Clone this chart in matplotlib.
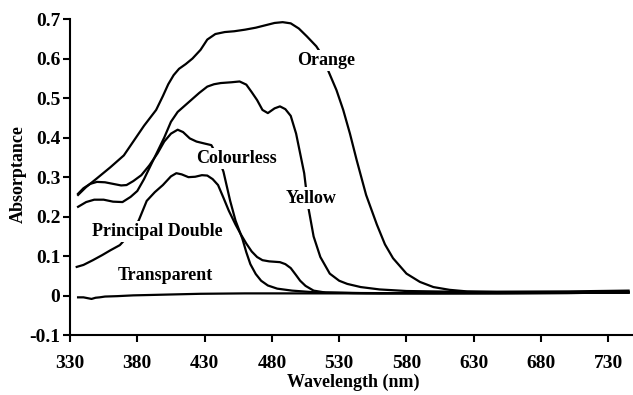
import matplotlib
matplotlib.use("Agg")
import matplotlib.pyplot as plt

# absorptance spectra
orange_wl = [336, 342, 350, 360, 370, 378, 385, 394, 399, 403, 407, 411, 416, 421, 427,
             432, 438, 445, 452, 460, 468, 475, 482, 488, 494, 500, 506, 513, 518, 522,
             528, 533, 538, 543, 550, 558, 564, 570, 580, 590, 600, 612, 625, 650, 700, 745]
orange_ab = [0.255, 0.275, 0.297, 0.325, 0.355, 0.395, 0.43, 0.47, 0.505, 0.535, 0.558,
             0.574, 0.586, 0.60, 0.622, 0.648, 0.662, 0.667, 0.669, 0.673, 0.678, 0.684,
             0.69, 0.692, 0.689, 0.676, 0.656, 0.631, 0.605, 0.568, 0.52, 0.47, 0.41,
             0.343, 0.255, 0.18, 0.13, 0.095, 0.056, 0.035, 0.022, 0.015, 0.011, 0.009,
             0.009, 0.010]

yellow_wl = [336, 342, 348, 355, 362, 369, 375, 380, 385, 390, 395, 400, 405, 410, 415,
             420, 426, 432, 437, 442, 450, 456, 461, 465, 469, 473, 477, 482, 486, 490,
             494, 498, 501, 504, 507, 511, 516, 523, 530, 536, 546, 560, 580, 620, 700, 745]
yellow_ab = [0.225, 0.237, 0.243, 0.243, 0.238, 0.237, 0.25, 0.265, 0.295, 0.33, 0.365,
             0.40, 0.44, 0.465, 0.48, 0.495, 0.513, 0.529, 0.535, 0.538, 0.54, 0.542,
             0.534, 0.515, 0.495, 0.47, 0.462, 0.474, 0.479, 0.472, 0.455, 0.41, 0.36,
             0.31, 0.225, 0.15, 0.098, 0.056, 0.038, 0.03, 0.022, 0.016, 0.012, 0.010,
             0.011, 0.013]

colourless_wl = [336, 340, 345, 350, 356, 362, 368, 372, 377, 383, 389, 395, 400, 405,
                 410, 414, 419, 424, 430, 435, 440, 444, 449, 453, 458, 461, 464, 468,
                 472, 477, 484, 495, 511, 540, 600, 700, 745]
colourless_ab = [0.258, 0.272, 0.283, 0.288, 0.287, 0.283, 0.279, 0.28, 0.29, 0.305,
                 0.33, 0.36, 0.39, 0.41, 0.42, 0.414, 0.398, 0.39, 0.385, 0.381, 0.35,
                 0.314, 0.24, 0.19, 0.145, 0.11, 0.08, 0.055, 0.038, 0.026, 0.018, 0.013,
                 0.009, 0.007, 0.006, 0.007, 0.008]

principal_wl = [335, 340, 347, 354, 360, 367, 373, 377, 381, 387, 393, 399, 405, 409, 413,
                418, 423, 428, 432, 436, 440, 444, 448, 453, 457, 461, 465, 469, 473, 478,
                486, 490, 494, 498, 501, 505, 511, 520, 560, 650, 745]
principal_ab = [0.073, 0.078, 0.09, 0.103, 0.115, 0.128, 0.15, 0.17, 0.19, 0.24, 0.262,
                0.28, 0.302, 0.31, 0.307, 0.30, 0.301, 0.305, 0.304, 0.295, 0.28, 0.248,
                0.215, 0.18, 0.155, 0.132, 0.112, 0.098, 0.09, 0.087, 0.085, 0.08, 0.07,
                0.052, 0.038, 0.025, 0.013, 0.008, 0.006, 0.006, 0.008]

transparent_wl = [336, 340, 343, 346, 349, 352, 356, 365, 377, 390, 402, 427, 460, 500,
                  550, 600, 650, 700, 745]
transparent_ab = [-0.004, -0.004, -0.006, -0.008, -0.005, -0.004, -0.002, -0.001, 0.001,
                  0.002, 0.003, 0.005, 0.006, 0.006, 0.006, 0.007, 0.007, 0.007, 0.008]

x_ticks = [330, 380, 430, 480, 530, 580, 630, 680, 730]
y_ticks = [-0.1, 0, 0.1, 0.2, 0.3, 0.4, 0.5, 0.6, 0.7]
y_tick_labels = ["-0.1", "0", "0.1", "0.2", "0.3", "0.4", "0.5", "0.6", "0.7"]

# curve labels (text, wavelength, absorptance)
labels = [("Orange", 520, 0.595),
          ("Yellow", 509, 0.247),
          ("Colourless", 454, 0.348),
          ("Principal Double", 395, 0.163),
          ("Transparent", 401, 0.052)]

serif = "Liberation Serif"

fig = plt.figure(figsize=(6.33, 3.95), dpi=100)
ax = fig.add_axes([70 / 633, 1 - 335.3 / 395, 563 / 633, 316.3 / 395])

for wl, ab in [(orange_wl, orange_ab), (yellow_wl, yellow_ab),
               (colourless_wl, colourless_ab), (principal_wl, principal_ab),
               (transparent_wl, transparent_ab)]:
    ax.plot(wl, ab, color="black", lw=1.6, solid_joinstyle="round")

for txt, x, y in labels:
    ax.text(x, y, txt, ha="center", va="center", fontsize=13, fontweight="bold",
            family=serif, zorder=5,
            bbox=dict(facecolor="white", edgecolor="none", pad=1.5))

ax.set_xlim(330, 748.3)
ax.set_ylim(-0.1, 0.7)
ax.set_xticks(x_ticks)
ax.set_yticks(y_ticks)
ax.set_yticklabels(y_tick_labels)

for s in ["top", "right"]:
    ax.spines[s].set_visible(False)
for s in ["left", "bottom"]:
    ax.spines[s].set_linewidth(1.5)

ax.tick_params(axis="both", direction="out", length=5, width=1.5)
ax.tick_params(axis="x", pad=9)
ax.tick_params(axis="y", pad=2)
for lab in ax.get_xticklabels() + ax.get_yticklabels():
    lab.set_fontfamily(serif)
    lab.set_fontweight("bold")
    lab.set_fontsize(14)

ax.set_xlabel("Wavelength (nm)", family=serif, fontweight="bold", fontsize=13)
ax.set_ylabel("Absorptance", family=serif, fontweight="bold", fontsize=13)
ax.xaxis.set_label_coords(0.503, -0.12)
ax.yaxis.set_label_coords(-0.076, 0.51)

fig.savefig("out.png", dpi=100)
